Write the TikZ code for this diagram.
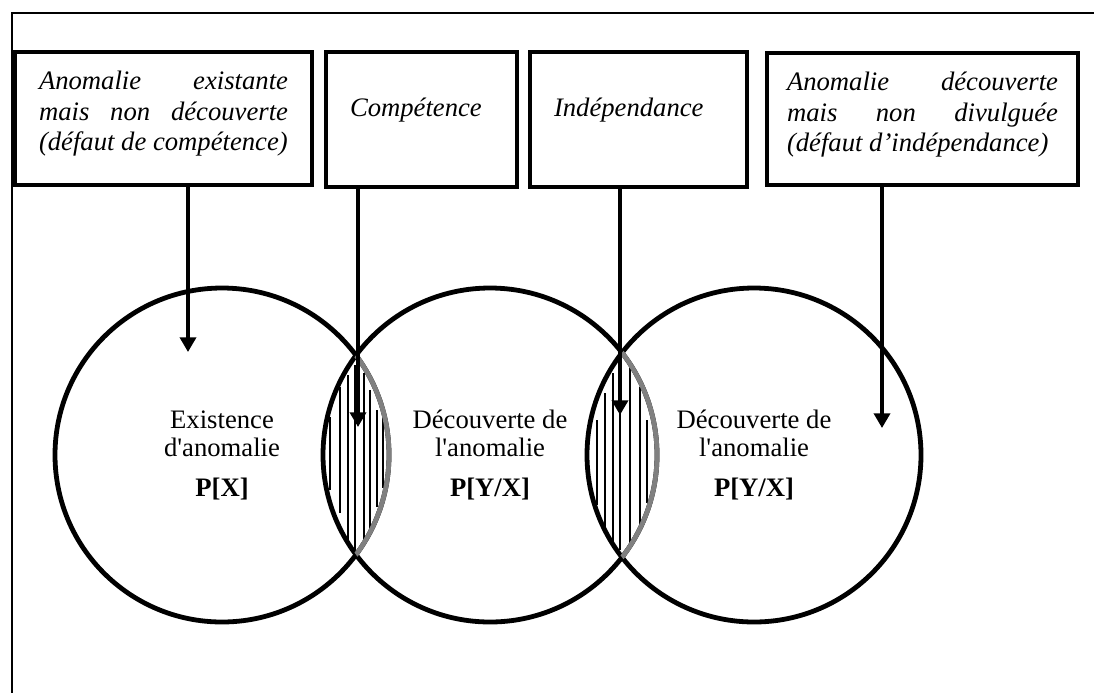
\documentclass[tikz,border=0pt]{standalone}
\usepackage{fontspec}
\setmainfont{Liberation Serif}
\usetikzlibrary{arrows.meta}
\begin{document}
\begin{tikzpicture}[x=0.75pt,y=-0.75pt,>={Triangle[width=12pt,length=11pt]},
 boite/.style={draw,line width=3.5pt,inner xsep=18pt,inner ysep=12pt,font=\fontsize{20}{23}\selectfont\itshape},
 rond/.style={circle,draw,line width=3.6pt,minimum size=250.5pt,inner sep=0pt,align=center,font=\fontsize{20}{21}\selectfont},
 fleche/.style={->,line width=2.6pt},
 hachure/.style={line width=1.3pt},
 arcgris/.style={draw=gray,line width=3.6pt}]
 \useasboundingbox (0,0) rectangle (1094,693);
 \draw[line width=1.6pt] (1094,13) -- (12,13) -- (12,693);
 \node[boite] (b1) at (163.5,118.5) {\parbox[c][75.75pt][t]{186.75pt}{\strut Anomalie\hfill existante\\ mais\hfill non\hfill découverte\\ (défaut de compétence)}};
 \node[boite] (b2) at (421.5,119.5) {\parbox[c][77.25pt][t]{107.25pt}{\rule{0pt}{36pt}Compétence}};
 \node[boite] (b3) at (638.5,119.5) {\parbox[c][77.25pt][t]{126.75pt}{\rule{0pt}{36pt}Indépendance}};
 \node[boite,inner xsep=15pt] (b4) at (922.5,119) {\parbox[c][75pt][t]{203.25pt}{\strut Anomalie\hfill découverte\\ mais\hfill non\hfill divulguée\\ (défaut d'indépendance)}};
 \node[rond] (c1) at (222,455) {Existence\\d\textquotesingle anomalie\\[9pt]\textbf{P[X]}};
 \node[rond] (c2) at (490,455) {Découverte de\\l\textquotesingle anomalie\\[9pt]\textbf{P[Y/X]}};
 \node[rond] (c3) at (754,455) {Découverte de\\l\textquotesingle anomalie\\[9pt]\textbf{P[Y/X]}};
 \begin{scope}
  \clip (c1.center) circle[radius=125.25pt];
  \clip (c2.center) circle[radius=125.25pt];
  \foreach \x/\a/\b in {330/417/490,340/387/513,348/375/542,355/365/550,364/373/547,370/390/530,377/410/507,383/418/488}
   \draw[hachure] (\x,\a) -- (\x,\b);
 \end{scope}
 \begin{scope}
  \clip (c2.center) circle[radius=125.25pt];
  \clip (c3.center) circle[radius=125.25pt];
  \foreach \x/\a/\b in {597/420/505,605/393/535,613/373/543,620/365/550,630/368/545,640/387/533,647/420/503}
   \draw[hachure] (\x,\a) -- (\x,\b);
 \end{scope}
 \begin{scope}
  \clip (c2.center) circle[radius=125.25pt];
  \draw[arcgris] (c1.center) circle[radius=125.25pt];
 \end{scope}
 \begin{scope}
  \clip (c3.center) circle[radius=125.25pt];
  \draw[arcgris] (c2.center) circle[radius=125.25pt];
 \end{scope}
 \coordinate (p1) at (188,352);
 \coordinate (p2) at (358,427);
 \coordinate (p3) at (620,415);
 \coordinate (p4) at (882,428);
 \draw[fleche] (b1.south -| p1) -- (p1);
 \draw[fleche] (b2.south -| p2) -- (p2);
 \draw[fleche] (b3.south -| p3) -- (p3);
 \draw[fleche] (b4.south -| p4) -- (p4);
\end{tikzpicture}
\end{document}
